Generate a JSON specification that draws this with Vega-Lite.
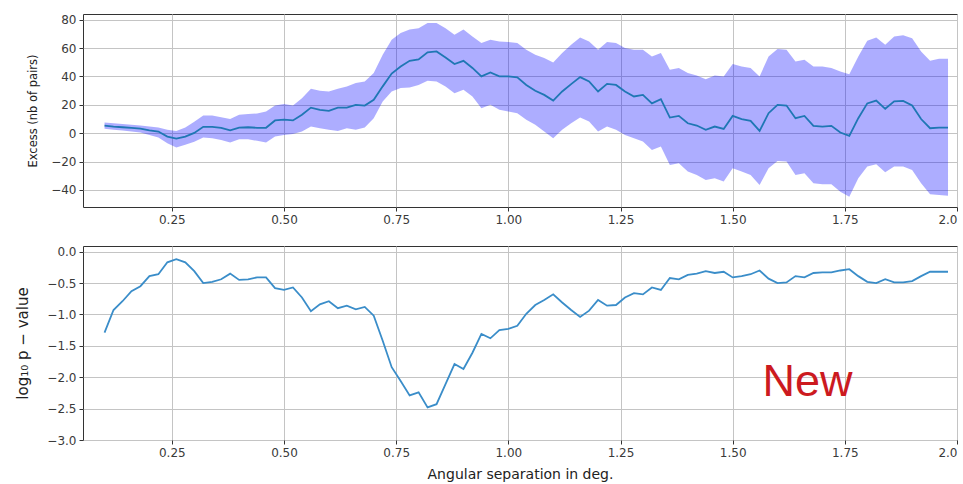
{
  "$schema": "https://vega.github.io/schema/vega-lite/v6.json",
  "padding": {"left": 14, "top": 13, "right": 0, "bottom": 2},
  "background": "white",
  "spacing": 39,
  "bounds": "flush",
  "config": {
    "view": {"stroke": "#333333", "strokeWidth": 1},
    "axis": {
      "domain": false,
      "grid": true,
      "gridColor": "#c4c4c4",
      "gridWidth": 1,
      "tickColor": "#333333",
      "tickSize": 4,
      "labelColor": "#3a3a3a",
      "labelFont": "DejaVu Sans",
      "labelFontSize": 12,
      "labelPadding": 3,
      "labelOverlap": false,
      "titleFont": "DejaVu Sans",
      "titleFontWeight": "normal",
      "titleColor": "#222222"
    }
  },
  "datasets": {
    "series": [
      {"x":0.10,"excess":5.4,"lo":3.2,"hi":7.5,"logp":-1.29},
      {"x":0.12,"excess":4.7,"lo":2.5,"hi":7.0,"logp":-0.93},
      {"x":0.14,"excess":4.2,"lo":1.9,"hi":6.4,"logp":-0.79},
      {"x":0.16,"excess":3.8,"lo":1.2,"hi":5.9,"logp":-0.63},
      {"x":0.18,"excess":3.3,"lo":0.5,"hi":5.4,"logp":-0.55},
      {"x":0.20,"excess":2.0,"lo":-1.2,"hi":4.7,"logp":-0.39},
      {"x":0.22,"excess":1.2,"lo":-3.0,"hi":4.0,"logp":-0.36},
      {"x":0.24,"excess":-2.4,"lo":-7.0,"hi":2.4,"logp":-0.17},
      {"x":0.26,"excess":-3.8,"lo":-10.0,"hi":1.6,"logp":-0.12},
      {"x":0.28,"excess":-2.4,"lo":-8.2,"hi":4.0,"logp":-0.17},
      {"x":0.30,"excess":0.2,"lo":-6.0,"hi":8.0,"logp":-0.31},
      {"x":0.32,"excess":4.5,"lo":-3.0,"hi":12.5,"logp":-0.50},
      {"x":0.34,"excess":4.5,"lo":-3.5,"hi":12.5,"logp":-0.48},
      {"x":0.36,"excess":3.8,"lo":-4.7,"hi":11.3,"logp":-0.44},
      {"x":0.38,"excess":2.0,"lo":-6.6,"hi":10.0,"logp":-0.35},
      {"x":0.40,"excess":4.0,"lo":-4.2,"hi":13.0,"logp":-0.45},
      {"x":0.42,"excess":4.2,"lo":-4.2,"hi":13.6,"logp":-0.44},
      {"x":0.44,"excess":3.8,"lo":-5.4,"hi":13.9,"logp":-0.41},
      {"x":0.46,"excess":3.8,"lo":-6.6,"hi":15.3,"logp":-0.41},
      {"x":0.48,"excess":9.0,"lo":-2.4,"hi":19.5,"logp":-0.58},
      {"x":0.50,"excess":9.6,"lo":-1.2,"hi":20.5,"logp":-0.61},
      {"x":0.52,"excess":9.0,"lo":-0.5,"hi":19.5,"logp":-0.57},
      {"x":0.54,"excess":13.0,"lo":1.2,"hi":24.7,"logp":-0.73},
      {"x":0.56,"excess":18.0,"lo":4.7,"hi":31.3,"logp":-0.95},
      {"x":0.58,"excess":16.5,"lo":3.5,"hi":30.0,"logp":-0.84},
      {"x":0.60,"excess":15.8,"lo":2.4,"hi":29.4,"logp":-0.79},
      {"x":0.62,"excess":18.0,"lo":1.6,"hi":31.3,"logp":-0.90},
      {"x":0.64,"excess":18.0,"lo":3.5,"hi":33.0,"logp":-0.86},
      {"x":0.66,"excess":20.0,"lo":2.4,"hi":35.3,"logp":-0.92},
      {"x":0.68,"excess":19.5,"lo":4.0,"hi":36.5,"logp":-0.88},
      {"x":0.70,"excess":23.5,"lo":10.6,"hi":42.4,"logp":-1.02},
      {"x":0.72,"excess":33.0,"lo":22.4,"hi":55.3,"logp":-1.42},
      {"x":0.74,"excess":42.0,"lo":29.4,"hi":65.9,"logp":-1.84},
      {"x":0.76,"excess":47.0,"lo":31.8,"hi":70.6,"logp":-2.06},
      {"x":0.78,"excess":51.0,"lo":32.2,"hi":73.0,"logp":-2.29},
      {"x":0.80,"excess":52.0,"lo":34.0,"hi":74.0,"logp":-2.24},
      {"x":0.82,"excess":57.0,"lo":37.0,"hi":77.6,"logp":-2.48},
      {"x":0.84,"excess":57.6,"lo":36.5,"hi":77.6,"logp":-2.43},
      {"x":0.86,"excess":53.4,"lo":33.0,"hi":74.0,"logp":-2.11},
      {"x":0.88,"excess":48.7,"lo":28.2,"hi":69.4,"logp":-1.79},
      {"x":0.90,"excess":51.0,"lo":30.6,"hi":73.0,"logp":-1.87},
      {"x":0.92,"excess":46.0,"lo":25.9,"hi":68.2,"logp":-1.61},
      {"x":0.94,"excess":40.0,"lo":17.6,"hi":63.5,"logp":-1.31},
      {"x":0.96,"excess":42.8,"lo":20.0,"hi":65.9,"logp":-1.38},
      {"x":0.98,"excess":40.0,"lo":16.5,"hi":64.7,"logp":-1.25},
      {"x":1.00,"excess":40.0,"lo":15.3,"hi":64.2,"logp":-1.23},
      {"x":1.02,"excess":39.3,"lo":14.1,"hi":63.5,"logp":-1.18},
      {"x":1.04,"excess":34.0,"lo":9.4,"hi":58.8,"logp":-0.99},
      {"x":1.06,"excess":29.9,"lo":5.9,"hi":55.3,"logp":-0.85},
      {"x":1.08,"excess":27.0,"lo":1.2,"hi":53.0,"logp":-0.77},
      {"x":1.10,"excess":23.0,"lo":-3.5,"hi":49.9,"logp":-0.68},
      {"x":1.12,"excess":29.4,"lo":2.4,"hi":56.5,"logp":-0.81},
      {"x":1.14,"excess":34.6,"lo":7.0,"hi":62.4,"logp":-0.93},
      {"x":1.16,"excess":39.5,"lo":11.0,"hi":67.5,"logp":-1.04},
      {"x":1.18,"excess":36.5,"lo":8.2,"hi":64.7,"logp":-0.94},
      {"x":1.20,"excess":29.4,"lo":1.2,"hi":58.8,"logp":-0.77},
      {"x":1.22,"excess":34.8,"lo":4.7,"hi":64.2,"logp":-0.86},
      {"x":1.24,"excess":34.0,"lo":2.4,"hi":63.5,"logp":-0.85},
      {"x":1.26,"excess":29.4,"lo":-1.2,"hi":60.0,"logp":-0.73},
      {"x":1.28,"excess":25.9,"lo":-3.5,"hi":58.8,"logp":-0.66},
      {"x":1.30,"excess":27.0,"lo":-5.9,"hi":58.8,"logp":-0.68},
      {"x":1.32,"excess":21.0,"lo":-11.8,"hi":54.0,"logp":-0.57},
      {"x":1.34,"excess":24.0,"lo":-9.4,"hi":56.5,"logp":-0.61},
      {"x":1.36,"excess":11.0,"lo":-22.4,"hi":44.7,"logp":-0.42},
      {"x":1.38,"excess":12.2,"lo":-21.2,"hi":45.9,"logp":-0.44},
      {"x":1.40,"excess":7.0,"lo":-27.0,"hi":42.4,"logp":-0.37},
      {"x":1.42,"excess":5.4,"lo":-29.4,"hi":40.7,"logp":-0.35},
      {"x":1.44,"excess":2.4,"lo":-32.9,"hi":38.1,"logp":-0.31},
      {"x":1.46,"excess":4.7,"lo":-31.8,"hi":40.7,"logp":-0.34},
      {"x":1.48,"excess":3.0,"lo":-34.0,"hi":40.0,"logp":-0.32},
      {"x":1.50,"excess":12.2,"lo":-24.7,"hi":48.7,"logp":-0.41},
      {"x":1.52,"excess":10.0,"lo":-27.0,"hi":47.0,"logp":-0.39},
      {"x":1.54,"excess":8.7,"lo":-29.4,"hi":45.9,"logp":-0.36},
      {"x":1.56,"excess":1.6,"lo":-36.5,"hi":40.0,"logp":-0.30},
      {"x":1.58,"excess":14.1,"lo":-24.7,"hi":54.0,"logp":-0.43},
      {"x":1.60,"excess":20.0,"lo":-19.5,"hi":59.3,"logp":-0.50},
      {"x":1.62,"excess":19.5,"lo":-20.0,"hi":58.8,"logp":-0.49},
      {"x":1.64,"excess":10.6,"lo":-29.4,"hi":50.6,"logp":-0.39},
      {"x":1.66,"excess":12.2,"lo":-28.2,"hi":51.8,"logp":-0.41},
      {"x":1.68,"excess":5.2,"lo":-35.3,"hi":47.0,"logp":-0.34},
      {"x":1.70,"excess":4.7,"lo":-36.0,"hi":47.0,"logp":-0.33},
      {"x":1.72,"excess":5.2,"lo":-36.0,"hi":45.9,"logp":-0.33},
      {"x":1.74,"excess":0.5,"lo":-41.2,"hi":43.5,"logp":-0.30},
      {"x":1.76,"excess":-1.9,"lo":-44.7,"hi":41.6,"logp":-0.28},
      {"x":1.78,"excess":10.6,"lo":-31.8,"hi":54.0,"logp":-0.39},
      {"x":1.80,"excess":21.0,"lo":-23.5,"hi":65.2,"logp":-0.48},
      {"x":1.82,"excess":23.0,"lo":-21.9,"hi":67.5,"logp":-0.50},
      {"x":1.84,"excess":17.2,"lo":-27.5,"hi":62.4,"logp":-0.44},
      {"x":1.86,"excess":22.4,"lo":-23.5,"hi":68.2,"logp":-0.49},
      {"x":1.88,"excess":22.8,"lo":-23.5,"hi":69.0,"logp":-0.49},
      {"x":1.90,"excess":19.5,"lo":-25.9,"hi":67.0,"logp":-0.47},
      {"x":1.92,"excess":10.0,"lo":-35.3,"hi":57.6,"logp":-0.39},
      {"x":1.94,"excess":3.5,"lo":-43.0,"hi":51.0,"logp":-0.32},
      {"x":1.96,"excess":4.0,"lo":-43.5,"hi":52.5,"logp":-0.32},
      {"x":1.98,"excess":4.0,"lo":-44.0,"hi":52.5,"logp":-0.32}
    ],
    "note": [{"x": 1.667, "y": -2.30, "label": "New"}]
  },
  "vconcat": [
    {
      "width": 874,
      "height": 193,
      "data": {"name": "series"},
      "encoding": {
        "x": {"field": "x", "type": "quantitative",
          "scale": {"domain": [0.052, 2.0], "nice": false, "zero": false},
          "axis": {"values": [0.25, 0.5, 0.75, 1.0, 1.25, 1.5, 1.75, 2.0], "labelExpr": "datum.value == 2 ? '2.0' : format(datum.value, '.2f')", "labelFlush": true, "title": null}},
        "y": {"type": "quantitative",
          "scale": {"domain": [-52, 84], "nice": false, "zero": false},
          "axis": {"values": [-40, -20, 0, 20, 40, 60, 80], "title": "Excess (nb of pairs)", "titleFontSize": 11.5, "titleX": -50, "titleBaseline": "middle"}}
      },
      "layer": [
        {
          "mark": {"type": "area", "color": "#0000ff", "opacity": 0.32},
          "encoding": {
            "y": {"field": "lo", "type": "quantitative",
              "scale": {"domain": [-52, 84], "nice": false, "zero": false},
              "axis": {"values": [-40, -20, 0, 20, 40, 60, 80], "title": "Excess (nb of pairs)", "titleFontSize": 11.5, "titleX": -50, "titleBaseline": "middle"}},
            "y2": {"field": "hi"}
          }
        },
        {
          "mark": {"type": "line", "color": "#1f77b4", "strokeWidth": 1.8},
          "encoding": {"y": {"field": "excess", "type": "quantitative",
              "scale": {"domain": [-52, 84], "nice": false, "zero": false},
              "axis": {"values": [-40, -20, 0, 20, 40, 60, 80], "title": "Excess (nb of pairs)", "titleFontSize": 11.5, "titleX": -50, "titleBaseline": "middle"}}}
        }
      ]
    },
    {
      "width": 874,
      "height": 194,
      "encoding": {
        "x": {"field": "x", "type": "quantitative",
          "scale": {"domain": [0.052, 2.0], "nice": false, "zero": false},
          "axis": {"values": [0.25, 0.5, 0.75, 1.0, 1.25, 1.5, 1.75, 2.0], "labelExpr": "datum.value == 2 ? '2.0' : format(datum.value, '.2f')", "labelFlush": true, "title": "Angular separation in deg.", "titleFontSize": 14, "titlePadding": 9}},
        "y": {"field": "logp", "type": "quantitative",
          "scale": {"domain": [-3.0, 0.09], "nice": false, "zero": false},
          "axis": {"values": [-3.0, -2.5, -2.0, -1.5, -1.0, -0.5, 0.0], "format": ".1f", "title": "log₁₀ p − value", "titleFontSize": 15, "titleX": -61, "titleBaseline": "middle"}}
      },
      "layer": [
        {
          "data": {"name": "series"},
          "mark": {"type": "line", "color": "#3a8dc9", "strokeWidth": 1.8}
        },
        {
          "data": {"name": "note"},
          "mark": {"type": "text", "color": "#cc1a1f", "font": "Liberation Sans", "fontSize": 45, "align": "center", "baseline": "alphabetic"},
          "encoding": {
            "y": {"field": "y", "type": "quantitative"},
            "text": {"field": "label"}
          }
        }
      ]
    }
  ]
}
